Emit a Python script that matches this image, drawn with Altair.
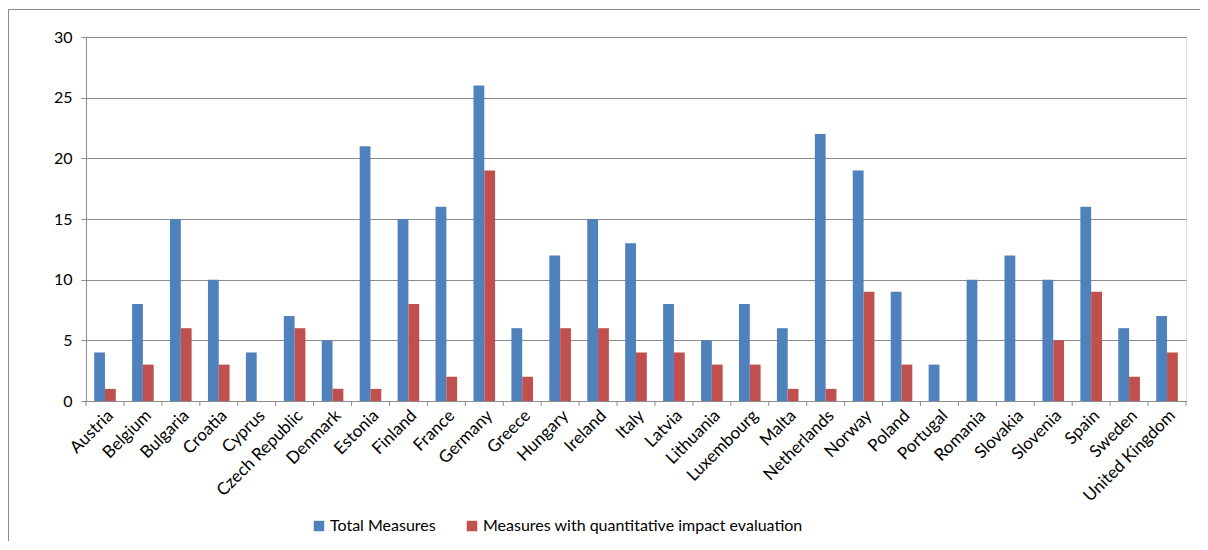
import altair as alt
import pandas as pd

countries = ["Austria", "Belgium", "Bulgaria", "Croatia", "Cyprus", "Czech Republic", "Denmark",
             "Estonia", "Finland", "France", "Germany", "Greece", "Hungary", "Ireland", "Italy",
             "Latvia", "Lithuania", "Luxembourg", "Malta", "Netherlands", "Norway", "Poland",
             "Portugal", "Romania", "Slovakia", "Slovenia", "Spain", "Sweden", "United Kingdom"]
total_measures = [4, 8, 15, 10, 4, 7, 5, 21, 15, 16, 26, 6, 12, 15, 13, 8, 5, 8, 6, 22, 19, 9, 3, 10, 12, 10, 16, 6, 7]
quant_measures = [1, 3, 6, 3, 0, 6, 1, 1, 8, 2, 19, 2, 6, 6, 4, 4, 3, 3, 1, 1, 9, 3, 0, 0, 0, 5, 9, 2, 4]
series_names = ["Total Measures", "Measures with quantitative impact evaluation"]
series_colors = ["#4F81BD", "#C0504D"]
y_ticks = [0, 5, 10, 15, 20, 25, 30]

rows = []
for c, t, q in zip(countries, total_measures, quant_measures):
    rows.append({"country": c, "series": series_names[0], "value": t})
    rows.append({"country": c, "series": series_names[1], "value": q})
df = pd.DataFrame(rows)

W, H = 1100, 364
GRID = "#8C8C8C"
FONT = "Lato"

xscale = alt.Scale(domain=countries, paddingInner=0, paddingOuter=0)
xaxis = alt.Axis(title=None, labelAngle=-45, ticks=False, domainColor=GRID,
                 labelFontSize=17, labelColor="#000", labelPadding=6, labelFont=FONT)

bars = alt.Chart(df).mark_bar().encode(
    x=alt.X("country:N", scale=xscale, sort=countries, axis=xaxis),
    xOffset=alt.XOffset("series:N", sort=series_names,
                        scale=alt.Scale(domain=series_names, paddingInner=0, paddingOuter=0.755)),
    y=alt.Y("value:Q", scale=alt.Scale(domain=[0, 30], nice=False),
            axis=alt.Axis(title=None, values=y_ticks, grid=True, gridColor=GRID, domainColor=GRID,
                          tickColor=GRID, tickSize=5, labelFontSize=16, labelColor="#000",
                          labelPadding=9, labelFont=FONT)),
    color=alt.Color("series:N", sort=series_names,
                    scale=alt.Scale(domain=series_names, range=series_colors),
                    legend=alt.Legend(title=None, orient="none", legendX=225, legendY=481,
                                      direction="horizontal", symbolType="square", symbolSize=110,
                                      symbolStrokeWidth=0, labelFontSize=16, labelFont=FONT,
                                      labelColor="#000", columnPadding=28, labelLimit=600,
                                      labelOffset=3)),
)

ticks = alt.Chart(pd.DataFrame({"country": countries})).mark_rule(color=GRID).encode(
    x=alt.X("country:N", scale=xscale, sort=countries, bandPosition=0, axis=xaxis),
    y=alt.value(H), y2=alt.value(H + 5),
)
last_tick = alt.Chart(pd.DataFrame({"k": [0]})).mark_rule(color=GRID).encode(
    x=alt.value(W), y=alt.value(H), y2=alt.value(H + 5),
)
border_left = alt.Chart(pd.DataFrame({"k": [0]})).mark_rule(color=GRID, strokeWidth=1).encode(
    x=alt.value(-77.5), y=alt.value(-27.5), y2=alt.value(H + 160),
)
border_top = alt.Chart(pd.DataFrame({"k": [0]})).mark_rule(color=GRID, strokeWidth=1).encode(
    x=alt.value(-77.5), x2=alt.value(W + 14), y=alt.value(-27.5),
)

chart = alt.layer(border_left, border_top, bars, ticks, last_tick).properties(
    width=W, height=H,
    autosize=alt.AutoSizeParams(type="none"),
    padding={"left": 78, "top": 29, "right": 14, "bottom": 140},
).configure_view(stroke=None).configure(font=FONT)

chart.save("out.html", embed_options={"renderer": "svg", "actions": False})
